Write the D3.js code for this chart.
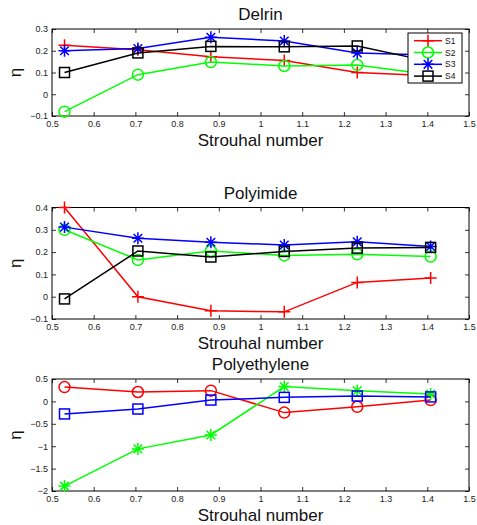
<!DOCTYPE html>
<html><head><meta charset="utf-8">
<script src="https://cdn.jsdelivr.net/npm/d3@7"></script>
<style>body{margin:0;background:#fff}svg{display:block;font-family:"Liberation Sans",Arial,Helvetica,sans-serif}</style>
</head><body><svg id="c" width="477" height="525"></svg>
<script>
const strouhal = [0.53, 0.706, 0.881, 1.057, 1.232, 1.408];
const xTicks = [0.5,0.6,0.7,0.8,0.9,1,1.1,1.2,1.3,1.4,1.5];

// Delrin
const delrinS1 = [0.225, 0.205, 0.172, 0.155, 0.10, 0.085];
const delrinS2 = [-0.08, 0.09, 0.148, 0.13, 0.135, 0.09];
const delrinS3 = [0.20, 0.21, 0.262, 0.245, 0.19, 0.18];
const delrinS4 = [0.10, 0.19, 0.22, 0.218, 0.222, 0.15];
const delrinTicks = [-0.1, 0, 0.1, 0.2, 0.3];

// Polyimide
const polyimideS1 = [0.40, 0.0, -0.063, -0.068, 0.064, 0.084];
const polyimideS2 = [0.30, 0.165, 0.205, 0.185, 0.19, 0.18];
const polyimideS3 = [0.312, 0.262, 0.244, 0.232, 0.246, 0.225];
const polyimideS4 = [-0.01, 0.205, 0.178, 0.203, 0.218, 0.221];
const polyimideTicks = [-0.1, 0, 0.1, 0.2, 0.3, 0.4];

// Polyethylene
const polyethRed = [0.32, 0.21, 0.24, -0.25, -0.12, 0.03];
const polyethGreen = [-1.89, -1.06, -0.75, 0.33, 0.24, 0.165];
const polyethBlue = [-0.28, -0.17, 0.03, 0.09, 0.12, 0.10];
const polyethTicks = [-2, -1.5, -1, -0.5, 0, 0.5];

const legendLabels = ["S1","S2","S3","S4"];

const svg = d3.select("#c");
const L = 52, R = 469;
const fmt = v => { let s = d3.format("~g")(v); return s.replace("-", "\u2212"); };

function marker(g, type, x, y, color) {
  const sw = 1.5;
  if (type === "plus") {
    g.append("path").attr("d", `M${x-6},${y}H${x+6}M${x},${y-6}V${y+6}`).attr("stroke", color).attr("stroke-width", sw).attr("fill","none");
  } else if (type === "circle") {
    g.append("circle").attr("cx", x).attr("cy", y).attr("r", 5.5).attr("stroke", color).attr("stroke-width", sw).attr("fill","none");
  } else if (type === "star") {
    const a = 6, d = 4.3;
    g.append("path").attr("d", `M${x-a},${y}H${x+a}M${x},${y-a}V${y+a}M${x-d},${y-d}L${x+d},${y+d}M${x-d},${y+d}L${x+d},${y-d}`).attr("stroke", color).attr("stroke-width", sw).attr("fill","none");
  } else if (type === "square") {
    g.append("rect").attr("x", x-5).attr("y", y-5).attr("width", 10).attr("height", 10).attr("stroke", color).attr("stroke-width", sw).attr("fill","none");
  }
}

function panel(opt) {
  const x = d3.scaleLinear().domain([0.5, 1.5]).range([L, R]);
  const y = d3.scaleLinear().domain(opt.ydom).range([opt.bottom, opt.top]);
  const g = svg.append("g");
  const plotH = opt.bottom - opt.top;
  // axes with inward ticks
  const ax = g.append("g").attr("transform", `translate(0,${opt.bottom})`)
    .call(d3.axisBottom(x).tickValues(xTicks).tickSize(-4).tickPadding(6).tickFormat(fmt));
  const axT = g.append("g").attr("transform", `translate(0,${opt.top})`)
    .call(d3.axisTop(x).tickValues(xTicks).tickSize(-4).tickFormat(""));
  const ay = g.append("g").attr("transform", `translate(${L},0)`)
    .call(d3.axisLeft(y).tickValues(opt.yticks).tickSize(-4).tickPadding(4).tickFormat(fmt));
  const ayR = g.append("g").attr("transform", `translate(${R},0)`)
    .call(d3.axisRight(y).tickValues(opt.yticks).tickSize(-4).tickFormat(""));
  [ax, axT, ay, ayR].forEach(a => {
    a.select(".domain").remove();
    a.selectAll("line").attr("stroke", "#000").attr("stroke-width", 0.8);
    a.selectAll("text").attr("font-size", 9).attr("fill", "#222").attr("font-family", '"Liberation Sans",Arial,sans-serif');
  });
  ax.selectAll("text").attr("dy", "0.71em").attr("y", 5);
  g.append("rect").attr("x", L).attr("y", opt.top).attr("width", R-L).attr("height", plotH)
    .attr("fill","none").attr("stroke","#000").attr("stroke-width",1);

  const line = d3.line().x((d,i) => x(strouhal[i])).y(d => y(d));
  opt.series.forEach(s => {
    g.append("path").datum(s.values).attr("d", line).attr("fill","none").attr("stroke", s.color).attr("stroke-width", 1.5);
    s.values.forEach((v,i) => marker(g, s.marker, x(strouhal[i]), y(v), s.color));
  });

  g.append("text").attr("x", (L+R)/2).attr("y", opt.top - 9).attr("text-anchor","middle")
    .attr("font-size", 17).attr("fill","#111").text(opt.title);
  g.append("text").attr("x", (L+R)/2).attr("y", opt.bottom + 29.5).attr("text-anchor","middle")
    .attr("font-size", 17).attr("fill","#111").text("Strouhal number");
  g.append("text").attr("transform", `translate(20.5,${(opt.top+opt.bottom)/2}) rotate(-90)`)
    .attr("text-anchor","middle").attr("font-size", 17).attr("fill","#111").text("η");
  return {g, x, y};
}

const p1 = panel({
  top: 29, bottom: 116, ydom: [-0.1, 0.3], yticks: delrinTicks, title: "Delrin",
  series: [
    {values: delrinS1, color: "#ff0000", marker: "plus"},
    {values: delrinS2, color: "#00ff00", marker: "circle"},
    {values: delrinS3, color: "#0000ff", marker: "star"},
    {values: delrinS4, color: "#000000", marker: "square"}
  ]
});
// legend
const lg = p1.g.append("g");
lg.append("rect").attr("x", 408).attr("y", 33).attr("width", 54).attr("height", 50)
  .attr("fill","#fff").attr("stroke","#000").attr("stroke-width",1);
const legColors = ["#ff0000","#00ff00","#0000ff","#000000"];
const legMarkers = ["plus","circle","star","square"];
legendLabels.forEach((lab, i) => {
  const yy = 40.7 + i * 11.8;
  lg.append("line").attr("x1", 414).attr("x2", 442).attr("y1", yy).attr("y2", yy).attr("stroke", legColors[i]).attr("stroke-width", 1.5);
  marker(lg, legMarkers[i], 428, yy, legColors[i]);
  lg.append("text").attr("x", 445).attr("y", yy + 3).attr("font-size", 8.5).attr("fill","#111").text(lab);
});

panel({
  top: 207.5, bottom: 319, ydom: [-0.1, 0.4], yticks: polyimideTicks, title: "Polyimide",
  series: [
    {values: polyimideS1, color: "#ff0000", marker: "plus"},
    {values: polyimideS2, color: "#00ff00", marker: "circle"},
    {values: polyimideS3, color: "#0000ff", marker: "star"},
    {values: polyimideS4, color: "#000000", marker: "square"}
  ]
});

panel({
  top: 379, bottom: 491, ydom: [-2, 0.5], yticks: polyethTicks, title: "Polyethylene",
  series: [
    {values: polyethRed, color: "#ff0000", marker: "circle"},
    {values: polyethGreen, color: "#00ff00", marker: "star"},
    {values: polyethBlue, color: "#0000ff", marker: "square"}
  ]
});
</script></body></html>
